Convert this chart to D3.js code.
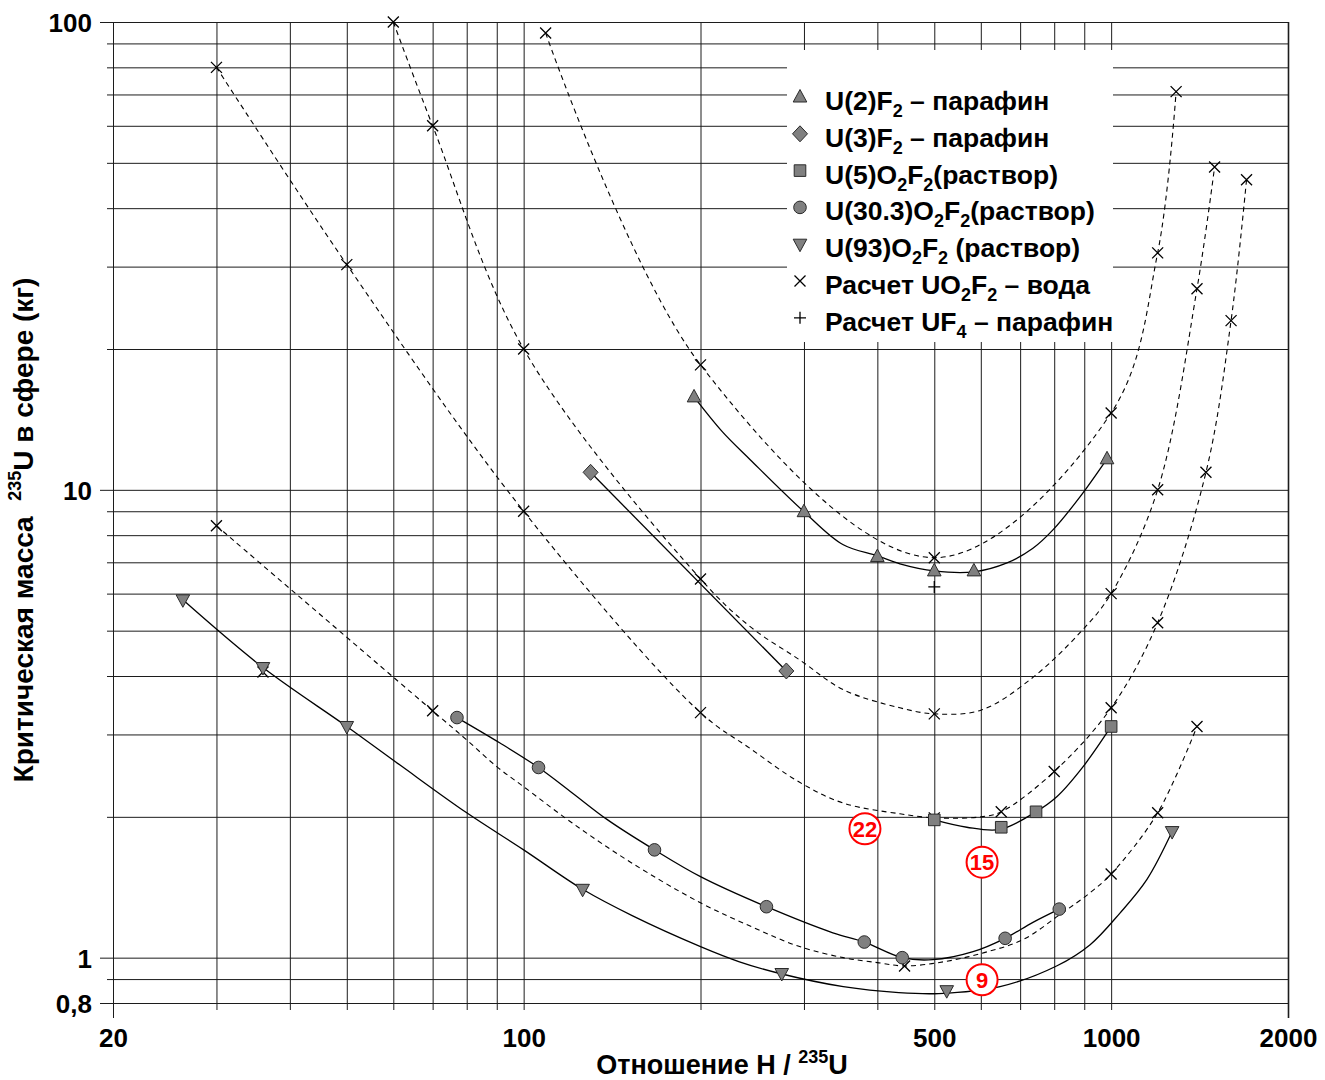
<!DOCTYPE html>
<html>
<head>
<meta charset="utf-8">
<script src="https://cdn.jsdelivr.net/npm/d3@7"></script>
<style>
  body { margin: 0; background: #fff; }
  text { font-family: "Liberation Sans", Arial, sans-serif; font-weight: bold; }
</style>
</head>
<body>
<svg id="chart" width="1325" height="1080"></svg>
<script>
// ---- axis ticks / grid values ----
const xGridMinor = [30, 40, 50, 60, 70, 80, 90, 100, 200, 300, 400, 500, 600, 700, 800, 900, 1000];
const xTickLabels = [20, 100, 500, 1000, 2000];
const yGridMinor = [0.9, 2, 3, 4, 5, 6, 7, 8, 9, 20, 30, 40, 50, 60, 70, 80, 90];
const yGridMajor = [0.8, 1, 10, 100];
const yTickLabels = [0.8, 1, 10, 100];

// ---- experimental points (H/235U, kg) ----
const u2F2 = [[195, 15.8], [300, 8.98], [400, 7.2], [500, 6.71], [584, 6.71], [984, 11.65]];
const u3F2 = [[130, 10.9], [280, 4.1]];
const u5O2F2 = [[500, 1.97], [650, 1.9], [745, 2.05], [1000, 3.12]];
const u30O2F2 = [[77, 3.26], [106, 2.55], [167, 1.7], [259, 1.285], [380, 1.08], [441, 1.0], [660, 1.1], [816, 1.27]];
const u93O2F2 = [[26.3, 5.82], [36, 4.17], [50, 3.12], [126, 1.4], [275, 0.925], [525, 0.85], [1270, 1.86]];

// fitted curves through the experimental points
const u2F2Curve = [[195, 15.8], [218, 13.3], [243, 11.6], [300, 8.98], [350, 7.63], [400, 7.23],
  [437, 6.95], [500, 6.71], [584, 6.68], [665, 6.98], [736, 7.5], [796, 8.21], [885, 9.66], [984, 11.65]];
const u3F2Curve = [[130, 10.9], [280, 4.1]];
const u5O2F2Curve = [[500, 1.97], [568, 1.9], [647, 1.88], [745, 2.05], [809, 2.21], [896, 2.56], [1000, 3.12]];
const u30O2F2Curve = [[77, 3.26], [91, 2.88], [106, 2.55], [121, 2.25], [139, 1.97], [167, 1.7], [200, 1.49],
  [259, 1.285], [336, 1.13], [380, 1.08], [441, 1.0], [497, 0.99], [582, 1.03], [660, 1.1], [736, 1.19], [816, 1.27]];
const u93O2F2Curve = [[26.3, 5.82], [36, 4.17], [50, 3.12], [61.6, 2.58], [80, 2.04], [100, 1.7], [126, 1.4],
  [153, 1.23], [200, 1.056], [233, 0.98], [273, 0.925], [350, 0.867], [435, 0.842], [509, 0.838], [647, 0.867],
  [809, 0.961], [921, 1.066], [1036, 1.247], [1150, 1.468], [1270, 1.86]];

// ---- calculated points, UO2F2 in water ----
const calcA = [[109, 94.7], [200, 18.5], [500, 7.16], [1000, 14.6], [1200, 32.1], [1290, 71]];
const calcB = [[60, 100], [70, 60], [100, 20], [200, 6.45], [500, 3.32], [1000, 6.0], [1200, 10], [1400, 26.9], [1500, 49]];
const calcC = [[30, 80], [50, 30.3], [100, 9.0], [200, 3.34], [500, 1.99], [650, 2.05], [800, 2.5], [1000, 3.42],
  [1200, 5.2], [1450, 10.9], [1600, 23], [1700, 46]];
const calcD = [[30, 8.38], [70, 3.37], [445, 0.96], [1000, 1.51], [1200, 2.04], [1400, 3.12]];
const calcSingle = [[36, 4.08]];

const calcACurve = calcA;
const calcBCurve = [[60, 100], [70, 60], [100, 20], [200, 6.45], [243, 5.1], [295, 4.33], [350, 3.74], [437, 3.42],
  [500, 3.32], [600, 3.38], [728, 3.93], [885, 4.95], [1000, 6.0], [1200, 10], [1400, 26.9], [1500, 49]];
const calcCCurve = [[30, 80], [50, 30.3], [100, 9.0], [200, 3.34], [243, 2.8], [295, 2.37], [350, 2.14],
  [437, 2.03], [500, 1.99], [600, 2.0], [650, 2.05], [800, 2.5], [1000, 3.42], [1200, 5.2], [1450, 10.9], [1600, 23], [1700, 46]];
const calcDCurve = [[30, 8.38], [70, 3.37], [80, 2.92], [90, 2.56], [100, 2.32], [121, 1.94], [152, 1.6], [200, 1.31],
  [246, 1.16], [295, 1.056], [350, 1.0], [400, 0.976], [445, 0.96], [519, 0.98], [608, 1.025], [708, 1.093],
  [818, 1.236], [921, 1.377], [1000, 1.51], [1200, 2.04], [1400, 3.12]];

// ---- calculated point, UF4 in paraffin ----
const calcUF4 = [[500, 6.2]];

// ---- circled annotations ----
const notes = [[381, 1.886, "22"], [603, 1.6, "15"], [603, 0.897, "9"]];

// ---- legend ----
const legendLabels = [
  "U(2)F_2 – парафин",
  "U(3)F_2 – парафин",
  "U(5)O_2F_2(раствор)",
  "U(30.3)O_2F_2(раствор)",
  "U(93)O_2F_2 (раствор)",
  "Расчет UO_2F_2 – вода",
  "Расчет UF_4 – парафин"
];

// ================== drawing ==================
const svg = d3.select("#chart");
const pLeft = 113, pRight = 1288, pTop = 22, pBottom = 1003;
const x = d3.scaleLog().domain([20, 2000]).range([pLeft, pRight]);
const y = d3.scaleLog().domain([0.8, 100]).range([pBottom, pTop]);

const GRID = "#1c1c1c";

function gridX(vals, yEnd, width) {
  svg.append("g").attr("transform", `translate(0,${yEnd})`)
    .call(d3.axisBottom(x).tickValues(vals).tickSize(-(yEnd - pTop)).tickFormat(""))
    .call(g => g.select(".domain").remove())
    .call(g => g.selectAll("line").attr("stroke", GRID).attr("stroke-width", width));
}
function gridY(vals, xStart) {
  svg.append("g").attr("transform", `translate(${xStart},0)`)
    .call(d3.axisLeft(y).tickValues(vals).tickSize(-(pRight - xStart)).tickFormat(""))
    .call(g => g.select(".domain").remove())
    .call(g => g.selectAll("line").attr("stroke", GRID).attr("stroke-width", 1));
}
gridX(xGridMinor, 1010, 1);
gridX([20], 1018, 1);
gridX([2000], 1018, 1.6);
gridY(yGridMinor, 107);
gridY(yGridMajor, 100);

// tick labels
svg.append("g").attr("transform", `translate(0,${pBottom})`)
  .call(d3.axisBottom(x).tickValues(xTickLabels).tickSize(0).tickPadding(26).tickFormat(d3.format("d")))
  .call(g => g.select(".domain").remove())
  .call(g => g.selectAll("text").attr("font-size", 26).attr("fill", "#000")
    .attr("font-family", "'Liberation Sans', Arial, sans-serif").attr("font-weight", "bold"));

svg.append("g").attr("transform", `translate(${pLeft},0)`)
  .call(d3.axisLeft(y).tickValues(yTickLabels).tickSize(0).tickPadding(21)
    .tickFormat(d => d < 1 ? String(d).replace(".", ",") : String(d)))
  .call(g => g.select(".domain").remove())
  .call(g => g.selectAll("text").attr("font-size", 26).attr("fill", "#000").attr("dy", "0.36em")
    .attr("font-family", "'Liberation Sans', Arial, sans-serif").attr("font-weight", "bold"));

// axis titles
const xt = svg.append("text").attr("x", 722).attr("y", 1074).attr("text-anchor", "middle").attr("font-size", 27);
xt.append("tspan").text("Отношение H / ");
xt.append("tspan").attr("font-size", 18).attr("dy", -11).text("235");
xt.append("tspan").attr("dy", 11).text("U");

const yt = svg.append("text").attr("transform", "translate(33,530) rotate(-90)")
  .attr("text-anchor", "middle").attr("font-size", 28);
yt.append("tspan").text("Критическая масса\u00A0\u00A0");
yt.append("tspan").attr("font-size", 18).attr("dy", -12).text("235");
yt.append("tspan").attr("dy", 12).text("U в сфере (кг)");

// legend background
svg.append("rect").attr("x", 787).attr("y", 50).attr("width", 326).attr("height", 292).attr("fill", "#fff");

// ---- marker shapes ----
const shapes = {
  triUp: { draw(c) { c.moveTo(0, -7.5); c.lineTo(6.8, 5); c.lineTo(-6.8, 5); c.closePath(); } },
  triDown: { draw(c) { c.moveTo(0, 7.5); c.lineTo(6.8, -5); c.lineTo(-6.8, -5); c.closePath(); } },
  diamond: { draw(c) { c.moveTo(0, -8); c.lineTo(7.5, 0); c.lineTo(0, 8); c.lineTo(-7.5, 0); c.closePath(); } },
  square: { draw(c) { c.rect(-5.8, -5.8, 11.6, 11.6); } },
  circle: { draw(c) { c.moveTo(6.3, 0); c.arc(0, 0, 6.3, 0, 2 * Math.PI); } },
  cross: { draw(c) { c.moveTo(-5.5, -5.5); c.lineTo(5.5, 5.5); c.moveTo(-5.5, 5.5); c.lineTo(5.5, -5.5); } },
  plus: { draw(c) { c.moveTo(-6, 0); c.lineTo(6, 0); c.moveTo(0, -6); c.lineTo(0, 6); } }
};
const sym = t => d3.symbol().type(shapes[t])();

const line = d3.line().x(d => x(d[0])).y(d => y(d[1])).curve(d3.curveCatmullRom.alpha(0.5));

// dashed calculation curves
const plot = svg.append("g");
[calcACurve, calcBCurve, calcCCurve, calcDCurve].forEach(c => {
  plot.append("path").attr("d", line(c)).attr("fill", "none").attr("stroke", "#000")
    .attr("stroke-width", 1.1).attr("stroke-dasharray", "5,4");
});
// solid experimental curves
[u2F2Curve, u3F2Curve, u5O2F2Curve, u30O2F2Curve, u93O2F2Curve].forEach(c => {
  plot.append("path").attr("d", line(c)).attr("fill", "none").attr("stroke", "#000").attr("stroke-width", 1.3);
});

function marks(data, shape, filled) {
  plot.append("g").selectAll("path").data(data).join("path")
    .attr("transform", d => `translate(${x(d[0])},${y(d[1])})`)
    .attr("d", sym(shape))
    .attr("fill", filled ? "#808080" : "none")
    .attr("stroke", filled ? "#2a2a2a" : "#000")
    .attr("stroke-width", filled ? 1 : 1.3);
}
marks([...calcA, ...calcB, ...calcC, ...calcD, ...calcSingle], "cross", false);
marks(calcUF4, "plus", false);
marks(u2F2, "triUp", true);
marks(u3F2, "diamond", true);
marks(u5O2F2, "square", true);
marks(u30O2F2, "circle", true);
marks(u93O2F2, "triDown", true);

// circled numbers
const ng = svg.append("g").selectAll("g").data(notes).join("g")
  .attr("transform", d => `translate(${x(d[0])},${y(d[1])})`);
ng.append("circle").attr("r", 15.5).attr("fill", "#fff").attr("stroke", "#ff0000").attr("stroke-width", 2);
ng.append("text").attr("text-anchor", "middle").attr("dy", "0.36em").attr("font-size", 22)
  .attr("fill", "#ff0000").text(d => d[2]);

// legend
const legendShapes = ["triUp", "diamond", "square", "circle", "triDown", "cross", "plus"];
const lg = svg.append("g").selectAll("g").data(legendLabels).join("g")
  .attr("transform", (d, i) => `translate(800,${110 + i * 36.8})`);
lg.append("path").attr("transform", "translate(0,-13)")
  .attr("d", (d, i) => sym(legendShapes[i]))
  .attr("fill", (d, i) => i < 5 ? "#808080" : "none")
  .attr("stroke", (d, i) => i < 5 ? "#2a2a2a" : "#000")
  .attr("stroke-width", (d, i) => i < 5 ? 1 : 1.3);
lg.append("text").attr("x", 25).attr("font-size", 26.5).each(function (d) {
  const t = d3.select(this);
  const parts = d.split(/(_\d)/).filter(p => p.length);
  let shifted = false;
  parts.forEach(p => {
    if (p[0] === "_") {
      t.append("tspan").attr("font-size", 18).attr("dy", 7).text(p.slice(1));
      shifted = true;
    } else {
      const s = t.append("tspan").text(p);
      if (shifted) { s.attr("dy", -7); shifted = false; }
    }
  });
});
</script>
</body>
</html>
